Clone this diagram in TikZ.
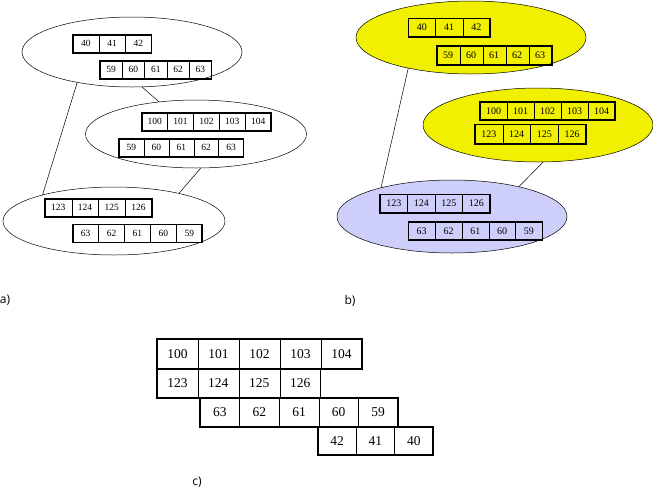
\documentclass[tikz,border=0pt]{standalone}
\usepackage{fontspec}
\setmainfont{Liberation Serif}
\newfontfamily\tagfont{Open Sans}
\usetikzlibrary{shapes.geometric,fit}
\definecolor{blobyellow}{RGB}{240,240,0}
\definecolor{bloblilac}{RGB}{206,206,250}
\tikzset{
	blob/.style={draw, ellipse, inner sep=0pt, outer sep=0pt, line width=.5pt},
	cell/.style={draw, line width=.4pt, inner sep=0pt, outer sep=0pt, anchor=north west},
	rowbox/.style={draw, line width=1.6pt, inner sep=0pt, outer sep=0pt},
	link/.style={line width=.5pt},
	tag/.style={font=\tagfont\fontsize{12}{14}\selectfont},
}
% name, x, y, cell width, height, number of cells, values
\newcommand{\cellrow}[7]{%
	\foreach \v [count=\i] in {#7}
		\node[cell, minimum width=#4pt, minimum height=#5pt] (#1-\i) at ({#2+(\i-1)*#4}, #3) {\v};
	\node[rowbox, fit=(#1-1)(#1-#6)] (#1) {};
}
\begin{document}
\begin{tikzpicture}[x=1pt, y=-1pt]
	\useasboundingbox (0,0) rectangle (653,488);
	% a)
	\begin{scope}[cell/.append style={font=\fontsize{9.5}{10}\selectfont}]
		\node[blob, minimum width=220pt, minimum height=70pt] (topA) at (132,52) {};
		\node[blob, minimum width=221pt, minimum height=68pt] (midA) at (196,134) {};
		\node[blob, minimum width=222pt, minimum height=68pt] (botA) at (114,221) {};
		\draw[link] (topA.209) -- (botA.160);
		\draw[link] (topA.286) -- (midA.139);
		\draw[link] (midA.278) -- (botA.23);
		\cellrow{topA1}{72.7}{35}{26.3}{17.7}{3}{40,41,42}
		\cellrow{topA2}{100}{60.7}{22.3}{18}{5}{59,60,61,62,63}
		\cellrow{midA1}{141.7}{112.7}{25.9}{18}{5}{100,101,102,103,104}
		\cellrow{midA2}{119}{139}{24.9}{17.7}{5}{59,60,61,62,63}
		\cellrow{botA1}{45}{198.7}{26.7}{18}{4}{123,124,125,126}
		\cellrow{botA2}{72.7}{224.3}{25.9}{18.3}{5}{63,62,61,60,59}
	\end{scope}
	\node[tag] (tagA) at (5,300) {a)};
	% b)
	\begin{scope}[cell/.append style={font=\fontsize{10}{11}\selectfont}]
		\node[blob, fill=blobyellow, minimum width=230pt, minimum height=73pt] (topB) at (471,37.5) {};
		\node[blob, fill=blobyellow, minimum width=230pt, minimum height=74pt] (midB) at (538,125) {};
		\node[blob, fill=bloblilac, minimum width=230pt, minimum height=73pt] (botB) at (452,216.5) {};
		\draw[link] (topB.206) -- (botB.158);
		\draw[link] (midB.278) -- (botB.24);
		\cellrow{topB1}{408.3}{18.3}{27.2}{18.4}{3}{40,41,42}
		\cellrow{topB2}{436.7}{46}{23}{19}{5}{59,60,61,62,63}
		\cellrow{midB1}{480}{101.7}{27}{18.3}{5}{100,101,102,103,104}
		\cellrow{midB2}{475}{124.3}{27.75}{19.7}{4}{123,124,125,126}
		\cellrow{botB1}{380}{194.3}{27.5}{18.4}{4}{123,124,125,126}
		\cellrow{botB2}{408.3}{221.7}{26.8}{18.3}{5}{63,62,61,60,59}
	\end{scope}
	\node[tag] (tagB) at (350,301) {b)};
	% c)
	\begin{scope}[cell/.append style={font=\fontsize{13.5}{14}\selectfont}]
		\cellrow{rowC1}{157}{339}{41}{30}{5}{100,101,102,103,104}
		\cellrow{rowC2}{157}{369}{40.9}{29}{4}{123,124,125,126}
		\cellrow{rowC3}{200}{398}{39.6}{29}{5}{63,62,61,60,59}
		\cellrow{rowC4}{318}{427}{38.3}{28}{3}{42,41,40}
	\end{scope}
	\node[tag] (tagC) at (197,482) {c)};
\end{tikzpicture}
\end{document}
